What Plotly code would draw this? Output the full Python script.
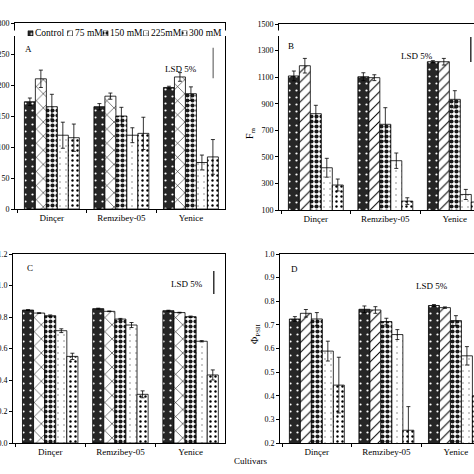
import plotly.graph_objects as go

cultivars = ["Dinçer", "Remzibey-05", "Yenice"]
treatments = ["Control", "75 mM", "150 mM", "225mM", "300 mM"]

# Panel A
a_vals = [[173, 165, 196], [210, 182, 213], [165, 150, 186], [119, 119, 75], [115, 122, 84]]
a_err = [[6, 5, 2], [14, 5, 7], [20, 14, 11], [21, 12, 12], [22, 26, 28]]
# Panel B (Fm)
b_vals = [[1109, 1103, 1216], [1186, 1096, 1216], [825, 745, 933], [418, 471, 217], [288, 167, 160]]
b_err = [[37, 30, 8], [55, 22, 25], [63, 125, 65], [71, 58, 38], [45, 25, 20]]
# Panel C
c_vals = [[0.844, 0.853, 0.840], [0.825, 0.836, 0.828], [0.808, 0.787, 0.802], [0.713, 0.749, 0.646], [0.550, 0.309, 0.432]]
c_err = [[0.003, 0.003, 0.003], [0.002, 0.002, 0.002], [0.005, 0.004, 0.004], [0.012, 0.016, 0.004], [0.020, 0.022, 0.032]]
# Panel D (PhiPSII)
d_vals = [[0.725, 0.766, 0.782], [0.749, 0.763, 0.773], [0.725, 0.714, 0.718], [0.589, 0.659, 0.569], [0.445, 0.254, 0.40]]
d_err = [[0.010, 0.014, 0.004], [0.016, 0.014, 0.003], [0.027, 0.014, 0.021], [0.042, 0.021, 0.039], [0.118, 0.100, 0.050]]

# LSD 5% bars (length) for panels A, B, C
lsd_len = [49, 188, 0.146]
lsd_base = [211, 1214, 0.946]

FONT = "Liberation Serif"
W = H = 474

def pat(i, diag):
    if i == 0:
        return dict(shape=".", bgcolor="#262626", fgcolor="white", size=7, solidity=0.08)
    if i == 1:
        if diag == "x":
            return dict(shape="x", bgcolor="white", fgcolor="black", size=10, solidity=0.1)
        return dict(shape="/", bgcolor="white", fgcolor="black", size=7, solidity=0.15)
    if i == 2:
        return dict(shape=".", bgcolor="white", fgcolor="#1a1a1a", size=5, solidity=0.55)
    if i == 3:
        return dict(shape=".", bgcolor="white", fgcolor="#888", size=6, solidity=0.06)
    return dict(shape=".", bgcolor="white", fgcolor="black", size=5, solidity=0.18)

fig = go.Figure()

panels = [
    ("x", "y", a_vals, a_err, "x"),
    ("x2", "y2", b_vals, b_err, "/"),
    ("x3", "y3", c_vals, c_err, "x"),
    ("x4", "y4", d_vals, d_err, "/"),
]
for xa, ya, vals, errs, diag in panels:
    for i, t in enumerate(treatments):
        fig.add_trace(go.Bar(
            x=cultivars, y=vals[i], name=t, xaxis=xa, yaxis=ya, showlegend=False,
            marker=dict(color="white", line=dict(color="black", width=0.8), pattern=pat(i, diag)),
            error_y=dict(type="data", array=errs[i], visible=True, color="black", thickness=0.8, width=2),
        ))

# legend swatches on a hidden pixel-scaled axis
leg_x = [30.5, 70, 105.5, 146, 184.5]
for i, t in enumerate(treatments):
    fig.add_trace(go.Bar(
        x=[leg_x[i]], y=[1], width=5, offset=-2.5, xaxis="x5", yaxis="y5", showlegend=False,
        hoverinfo="skip",
        marker=dict(color="white", line=dict(color="black", width=0.6), pattern=pat(i, "/")),
    ))

ax_common = dict(showline=True, linecolor="black", linewidth=1, ticks="outside", ticklen=3,
                 tickcolor="black", showgrid=False, zeroline=False, automargin=False,
                 tickfont=dict(family=FONT, size=8, color="black"))
x_common = dict(ax_common, mirror=True, tickson="boundaries", tickfont=dict(family=FONT, size=9, color="black"))

yA = [(474 - 209) / H, (474 - 23) / H]
yC = [(474 - 443) / H, (474 - 254) / H]

fig.update_layout(
    width=W, height=H, margin=dict(l=0, r=0, t=0, b=0),
    paper_bgcolor="white", plot_bgcolor="white", template="none",
    barmode="group", bargap=0.21, bargroupgap=0,
    font=dict(family=FONT, color="black"),
    xaxis=dict(x_common, domain=[15 / W, 225 / W], range=[-0.53, 2.49], anchor="y"),
    yaxis=dict(ax_common, domain=yA, range=[0, 300], dtick=50, mirror=True, anchor="x"),
    xaxis2=dict(x_common, domain=[279 / W, 1.0], range=[-0.53, 2.276], anchor="y2"),
    yaxis2=dict(ax_common, domain=[(474 - 210) / H, (474 - 24) / H], range=[100, 1500],
                tick0=100, dtick=200, anchor="x2"),
    xaxis3=dict(x_common, domain=[13 / W, 225 / W], range=[-0.53, 2.49], anchor="y3"),
    yaxis3=dict(ax_common, domain=yC, range=[0, 1.2], dtick=0.2, tickformat=".1f", mirror=True, anchor="x3"),
    xaxis4=dict(x_common, domain=[280 / W, 1.0], range=[-0.53, 2.26], anchor="y4"),
    yaxis4=dict(ax_common, domain=yC, range=[0.2, 1.0], tick0=0.2, dtick=0.1, tickformat=".1f", anchor="x4"),
    xaxis5=dict(domain=[0, 1], range=[0, W], visible=False, anchor="y5"),
    yaxis5=dict(domain=[(474 - 36) / H, (474 - 30.5) / H], range=[0, 1], visible=False, anchor="x5"),
)

ann = []
leg_text_x = [32.5, 72.5, 108, 148.5, 187]
for i, t in enumerate(treatments):
    ann.append(dict(x=leg_text_x[i], y=0.5, xref="x5", yref="y5", text=t, showarrow=False,
                    xanchor="left", yanchor="middle", font=dict(family=FONT, size=9.5)))

def lbl(x, y, text, size=9, **kw):
    d = dict(x=x / W, y=1 - y / H, xref="paper", yref="paper", text=text, showarrow=False,
             font=dict(family=FONT, size=size, color="black"))
    d.update(kw)
    return d

ann += [
    lbl(23, 42, "A"), lbl(291, 39, "B"), lbl(25, 268, "C"), lbl(294, 269, "D"),
    lbl(181, 62, "LSD 5%"), lbl(435, 49, "LSD 5%"), lbl(187, 284, "LSD 5%"), lbl(450, 286, "LSD 5%"),
    lbl(250, 125, "F<sub>m</sub>", size=10, textangle=-90),
    lbl(255, 346, "Φ<sub>PSII</sub>", size=10, textangle=-90),
    lbl(232, 468, "Cultivars", size=9, xanchor="left"),
]
fig.update_layout(annotations=ann)

lsd_pos = [("x", "y", 2.32, "#888"), ("x2", "y2", 2.23, "#333"), ("x3", "y3", 2.33, "#333")]
shapes = []
for k, (xr, yr, xv, col) in enumerate(lsd_pos):
    shapes.append(dict(type="line", xref=xr, yref=yr, x0=xv, x1=xv,
                       y0=lsd_base[k], y1=lsd_base[k] + lsd_len[k], line=dict(color=col, width=1.5)))
fig.update_layout(shapes=shapes)

fig.write_html("out.html", config={"displayModeBar": False},
               post_script="document.body.style.margin='0';document.body.style.overflow='hidden';")
